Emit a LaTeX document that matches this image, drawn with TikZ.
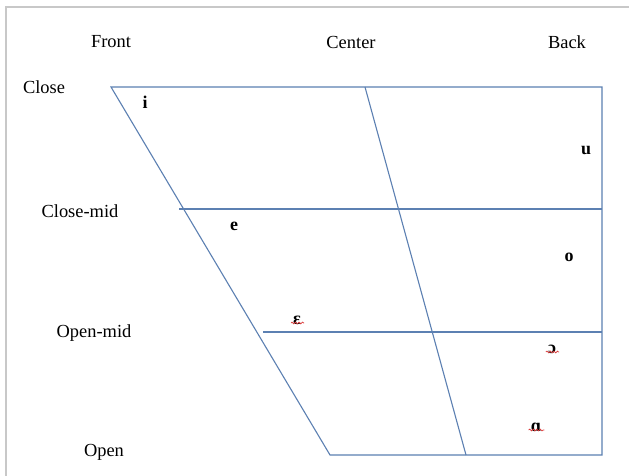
\documentclass[tikz,border=0pt]{standalone}
\usepackage{fontspec}
\setmainfont{Liberation Serif}
\usetikzlibrary{decorations.pathmorphing}
\definecolor{chartblue}{RGB}{92,128,178}
\definecolor{framegray}{RGB}{200,200,200}
\definecolor{spellred}{RGB}{220,60,60}
\begin{document}
\begin{tikzpicture}[x=1bp,y=-1bp,
  gridline/.style={draw=chartblue,line width=1.1bp},
  lbl/.style={inner sep=0pt,font=\fontsize{18.5}{22}\selectfont},
  vow/.style={inner sep=0pt,font=\fontsize{18}{22}\selectfont\bfseries},
  squig/.style={draw=spellred,line width=0.7bp,decorate,decoration={snake,amplitude=0.9bp,segment length=3.5bp}}]
\useasboundingbox (0,0) rectangle (629,476);
\fill[white] (0,0) rectangle (629,476);
% frame
\draw[framegray,line width=2.5bp] (6,476) -- (6,7) -- (629,7);
% corners
\coordinate (TL) at (111,87);
\coordinate (TC) at (365,87);
\coordinate (TR) at (602,87);
\coordinate (BL) at (330,455);
\coordinate (BC) at (466,455);
\coordinate (BR) at (602,455);
\coordinate (CMl) at (179,209);
\coordinate (CMr) at (602,209);
\coordinate (OMl) at (263,332);
\coordinate (OMr) at (602,332);
\draw[gridline] (TL) -- (TR) -- (BR) -- (BL) -- cycle;
\draw[gridline] (TC) -- (BC);
\draw[gridline] (CMl) -- (CMr);
\draw[gridline] (OMl) -- (OMr);
% labels
\node[lbl] (front) at (111,42) {Front};
\node[lbl] (center) at (351,42) {Center};
\node[lbl] (back) at (567,42) {Back};
\node[lbl] (close) at (44,87) {Close};
\node[lbl] (closemid) at (80,211) {Close-mid};
\node[lbl] (openmid) at (94,333) {Open-mid};
\node[lbl] (open) at (104,452) {Open};
% vowels
\node[vow] (i) at (145,102) {i};
\node[vow] (u) at (586,150) {u};
\node[vow] (e) at (234,226) {e};
\node[vow] (o) at (569,257) {o};
\node[vow] (eps) at (297,320) {ɛ};
\node[vow] (oo) at (552,349) {ɔ};
\node[vow] (aa) at (536,427) {ɑ};
% spell-check marks
\draw[squig] ([xshift=-2bp,yshift=1.5bp]eps.south west) -- ([xshift=3bp,yshift=1.5bp]eps.south east);
\draw[squig] ([xshift=-2bp,yshift=1.5bp]oo.south west) -- ([xshift=3bp,yshift=1.5bp]oo.south east);
\draw[squig] ([xshift=-2bp,yshift=1.5bp]aa.south west) -- ([xshift=3bp,yshift=1.5bp]aa.south east);
\end{tikzpicture}
\end{document}
